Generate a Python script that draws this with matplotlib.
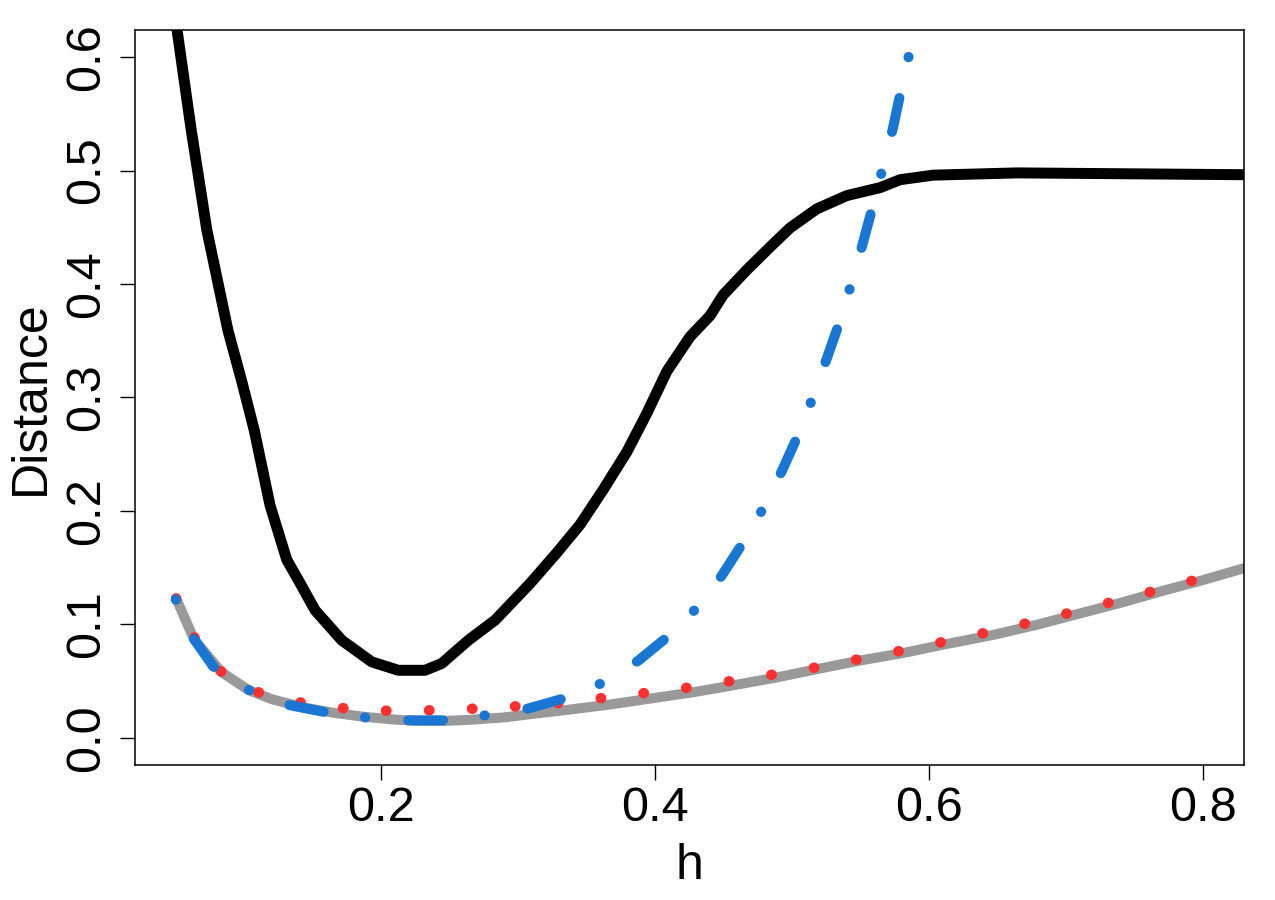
import matplotlib
matplotlib.use('Agg')
import matplotlib.pyplot as plt

plt.rcParams['font.family'] = ['Liberation Sans', 'DejaVu Sans']
plt.rcParams['lines.scale_dashes'] = False

# black curve
black_h = [0.05, 0.0609, 0.0724, 0.0879, 0.0978, 0.1071, 0.1186, 0.1308, 0.1393, 0.1515,
           0.1710, 0.1929, 0.2123, 0.2318, 0.2440, 0.2635, 0.2830, 0.3085, 0.3280,
           0.3451, 0.3621, 0.3792, 0.3938, 0.4084, 0.4253, 0.4399, 0.4497, 0.4668,
           0.4838, 0.4984, 0.5180, 0.5399, 0.5642, 0.5788, 0.6029, 0.6643, 0.84]
black_d = [0.630, 0.537, 0.448, 0.359, 0.315, 0.271, 0.205, 0.157, 0.139, 0.1125,
           0.086, 0.0669, 0.0595, 0.0595, 0.0655, 0.086, 0.1037, 0.136, 0.163,
           0.188, 0.219, 0.252, 0.286, 0.323, 0.3535, 0.372, 0.3906, 0.4124,
           0.4326, 0.4495, 0.4663, 0.478, 0.485, 0.492, 0.496, 0.498, 0.4963]

# gray curve
gray_h = [0.05, 0.063, 0.083, 0.103, 0.12, 0.142, 0.165, 0.188, 0.21, 0.227, 0.245,
          0.264, 0.29, 0.312, 0.335, 0.365, 0.396, 0.427, 0.457, 0.488, 0.518, 0.549,
          0.58, 0.61, 0.648, 0.68, 0.71, 0.74, 0.772, 0.80, 0.84]
gray_d = [0.123, 0.087, 0.058, 0.042, 0.034, 0.027, 0.022, 0.0184, 0.016, 0.0148, 0.0148,
          0.0158, 0.018, 0.0213, 0.0245, 0.029, 0.0345, 0.040, 0.0463, 0.053, 0.0605, 0.068,
          0.0745, 0.082, 0.091, 0.100, 0.1096, 0.119, 0.130, 0.139, 0.153]

# red dotted curve
red_h = [0.05, 0.063, 0.0833, 0.1111, 0.1423, 0.174, 0.2061, 0.2382, 0.2704, 0.3021,
         0.3331, 0.3643, 0.3964, 0.4277, 0.4589, 0.4906, 0.5222, 0.5533, 0.5847, 0.6159,
         0.6473, 0.6784, 0.7096, 0.7406, 0.7720, 0.80]
red_d = [0.1228, 0.089, 0.058, 0.0395, 0.0307, 0.0258, 0.0237, 0.0243, 0.0258, 0.028,
         0.031, 0.0355, 0.040, 0.0448, 0.0507, 0.0566, 0.063, 0.0704, 0.078, 0.086,
         0.0942, 0.103, 0.1122, 0.1219, 0.1319, 0.141]

# blue dot-dash curve
blue_h = [0.0497, 0.0631, 0.0770, 0.1033, 0.1318, 0.1573, 0.1885, 0.2194, 0.2450,
          0.2762, 0.3071, 0.3304, 0.3602, 0.3876, 0.4059, 0.4291, 0.4486, 0.4619,
          0.4780, 0.4928, 0.5021, 0.5143, 0.5253, 0.5330, 0.5425, 0.5516, 0.5576,
          0.5657, 0.5735, 0.5788, 0.5856, 0.592]
blue_d = [0.122, 0.087, 0.063, 0.042, 0.029, 0.023, 0.0178, 0.0154, 0.0154,
          0.0198, 0.0258, 0.0337, 0.0478, 0.068, 0.086, 0.113, 0.143, 0.168,
          0.2007, 0.236, 0.261, 0.2977, 0.3345, 0.361, 0.3977, 0.436, 0.463,
          0.5004, 0.537, 0.567, 0.6036, 0.64]

xticks = [0.2, 0.4, 0.6, 0.8]
yticks = [0.0, 0.1, 0.2, 0.3, 0.4, 0.5, 0.6]

fig = plt.figure(figsize=(12.75, 9), dpi=100)
ax = fig.add_axes([0.1059, 0.15, 0.8698, 0.8167])

ax.plot(black_h, black_d, color='black', lw=7.9,
        solid_capstyle='round', solid_joinstyle='round')
ax.plot(gray_h, gray_d, color='#999999', lw=7.2,
        solid_capstyle='round', solid_joinstyle='round')
ax.plot(red_h, red_d, color='#FF3030', lw=7.6, linestyle=(0, (0.3, 30.7)),
        dash_capstyle='round', dash_joinstyle='round')
ax.plot(blue_h, blue_d, color='#1976D2', lw=7.2, linestyle=(0, (0.3, 31, 25, 30)),
        dash_capstyle='round', dash_joinstyle='round')

ax.set_xlim(0.02, 0.83)
ax.set_ylim(-0.024, 0.624)
ax.set_xticks(xticks)
ax.set_xticklabels([f'{t:.1f}' for t in xticks])
ax.set_yticks(yticks)
ax.set_yticklabels([f'{t:.1f}' for t in yticks], rotation=90, va='center')

ax.tick_params(axis='both', length=11, width=1, labelsize=35)
ax.tick_params(axis='x', pad=4)
ax.tick_params(axis='y', pad=8)
for sp in ax.spines.values():
    sp.set_linewidth(1.1)

ax.set_xlabel('h', fontsize=36, labelpad=9)
ax.set_ylabel('Distance', fontsize=36, labelpad=7)

fig.savefig('out.png', dpi=100)
